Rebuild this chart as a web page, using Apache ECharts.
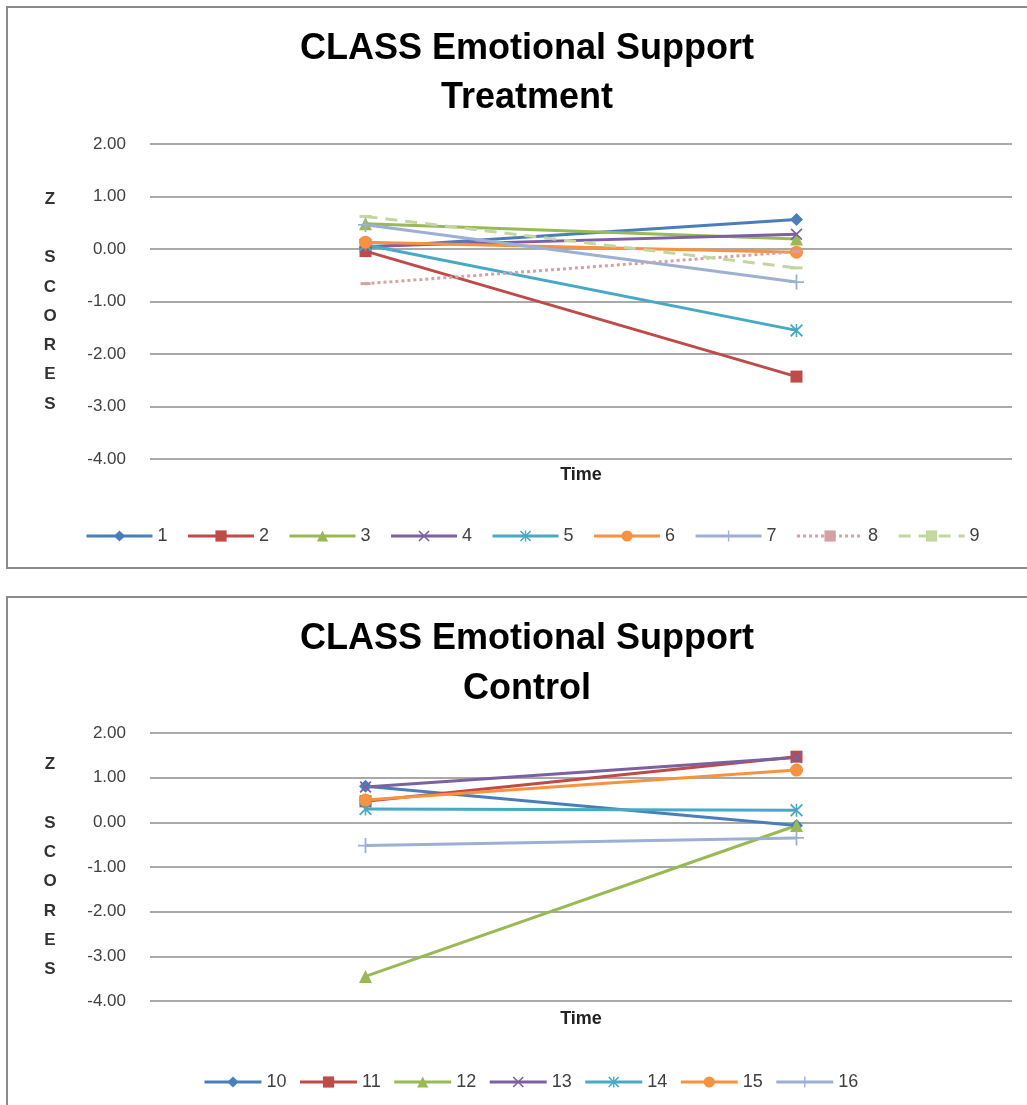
<!DOCTYPE html>
<html>
<head>
<meta charset="utf-8">
<title>CLASS Emotional Support</title>
<script src="https://cdn.jsdelivr.net/npm/echarts@6/dist/echarts.min.js"></script>
<style>
  html, body { margin: 0; padding: 0; background: #fff; }
  #chart { width: 1027px; height: 1105px; }
</style>
</head>
<body>
<div id="chart"></div>
<script>
// two time points, no visible category labels
const categories = ['Time 1', 'Time 2']
const yTicks = [-4, -3, -2, -1, 0, 1, 2]

// Treatment classrooms (z scores)
const treatNames = ['1', '2', '3', '4', '5', '6', '7', '8', '9']
const treat1 = [0.03, 0.56]
const treat2 = [-0.04, -2.43]
const treat3 = [0.48, 0.19]
const treat4 = [0.05, 0.28]
const treat5 = [0.08, -1.55]
const treat6 = [0.13, -0.06]
const treat7 = [0.46, -0.63]
const treat8 = [-0.66, -0.05]
const treat9 = [0.62, -0.36]

// Control classrooms (z scores)
const ctrlNames = ['10', '11', '12', '13', '14', '15', '16']
const ctrl10 = [0.81, -0.07]
const ctrl11 = [0.47, 1.47]
const ctrl12 = [-3.45, -0.07]
const ctrl13 = [0.79, 1.45]
const ctrl14 = [0.3, 0.27]
const ctrl15 = [0.5, 1.17]
const ctrl16 = [-0.52, -0.35]

const palette = ['#4A7EBB', '#BE4B48', '#98B954', '#7D60A0', '#46AAC5', '#F69240', '#9DB0D4', '#D4A2A2', '#C4D69F']

const xMark = 'path://M0,1 L1,0 L10,9 L9,10 Z M9,0 L10,1 L1,10 L0,9 Z'
const plusMark = 'path://M4.4,0 L5.6,0 L5.6,4.4 L10,4.4 L10,5.6 L5.6,5.6 L5.6,10 L4.4,10 L4.4,5.6 L0,5.6 L0,4.4 L4.4,4.4 Z'
const starMark = 'path://M0,1 L1,0 L10,9 L9,10 Z M9,0 L10,1 L1,10 L0,9 Z M4.4,0 L5.6,0 L5.6,10 L4.4,10 Z'
const dashMark = 'path://M0,0 L10,0 L10,3 L0,3 Z'

// marker per series slot, same order as Excel's defaults
const markers = [
  { symbol: 'diamond', size: 13 },
  { symbol: 'rect', size: 12 },
  { symbol: 'triangle', size: 13 },
  { symbol: xMark, size: 12 },
  { symbol: starMark, size: 13 },
  { symbol: 'circle', size: 13 },
  { symbol: plusMark, size: 15 },
  { symbol: dashMark, size: [10, 3] },
  { symbol: dashMark, size: [12, 3] }
]
const lineTypes = ['solid', 'solid', 'solid', 'solid', 'solid', 'solid', 'solid', [3, 3], [12, 8]]

const labelColor = '#404040'
const gridColor = '#8c8c8c'

function makeSeries(name, data, slot, axisIndex) {
  const m = markers[slot]
  return {
    name: name,
    type: 'line',
    xAxisIndex: axisIndex,
    yAxisIndex: axisIndex,
    data: data,
    symbol: m.symbol,
    symbolSize: m.size,
    showAllSymbol: true,
    animation: false,
    itemStyle: { color: palette[slot] },
    lineStyle: { color: palette[slot], width: 3, type: lineTypes[slot] }
  }
}

function makeXAxis(gridIndex, gap) {
  return {
    type: 'category',
    gridIndex: gridIndex,
    data: categories,
    boundaryGap: true,
    axisLine: { show: false },
    axisTick: { show: false },
    axisLabel: { show: false },
    name: 'Time',
    nameLocation: 'middle',
    nameGap: gap,
    nameTextStyle: { fontFamily: 'Liberation Sans', fontWeight: 'bold', fontSize: 18, color: '#222' }
  }
}

function makeYAxis(gridIndex) {
  return {
    type: 'value',
    gridIndex: gridIndex,
    min: yTicks[0],
    max: yTicks[yTicks.length - 1],
    interval: 1,
    axisLine: { show: false },
    axisTick: { show: false },
    axisLabel: {
      margin: 24,
      fontFamily: 'Liberation Sans',
      fontSize: 17,
      color: labelColor,
      formatter: v => v.toFixed(2)
    },
    splitLine: { lineStyle: { color: gridColor, width: 1.5 } },
    name: 'Z\n\nS\nC\nO\nR\nE\nS',
    nameLocation: 'middle',
    nameRotate: 0,
    nameGap: 100,
    nameTextStyle: {
      fontFamily: 'Liberation Sans',
      fontWeight: 'bold',
      fontSize: 17,
      lineHeight: 29.3,
      color: '#333',
      align: 'center',
      verticalAlign: 'middle'
    }
  }
}

const legendText = { fontFamily: 'Liberation Sans', fontSize: 18, color: labelColor }

const treatData = [treat1, treat2, treat3, treat4, treat5, treat6, treat7, treat8, treat9]
const ctrlData = [ctrl10, ctrl11, ctrl12, ctrl13, ctrl14, ctrl15, ctrl16]

const series = []
treatData.forEach((d, i) => series.push(makeSeries(treatNames[i], d, i, 0)))
ctrlData.forEach((d, i) => series.push(makeSeries(ctrlNames[i], d, i, 1)))

const chart = echarts.init(document.getElementById('chart'))
chart.setOption({
  backgroundColor: '#fff',
  animation: false,
  graphic: [
    { type: 'rect', shape: { x: 7, y: 7, width: 1040, height: 561 }, style: { fill: 'none', stroke: '#8a8a8a', lineWidth: 2 }, silent: true },
    { type: 'rect', shape: { x: 7, y: 597, width: 1040, height: 530 }, style: { fill: 'none', stroke: '#8a8a8a', lineWidth: 2 }, silent: true }
  ],
  title: [
    {
      text: 'CLASS Emotional Support\nTreatment',
      left: 522,
      top: 20,
      textAlign: 'center',
      textStyle: { fontFamily: 'Liberation Sans', fontWeight: 'bold', fontSize: 36, lineHeight: 49, color: '#000' }
    },
    {
      text: 'CLASS Emotional Support\nControl',
      left: 522,
      top: 609,
      textAlign: 'center',
      textStyle: { fontFamily: 'Liberation Sans', fontWeight: 'bold', fontSize: 36, lineHeight: 50, color: '#000' }
    }
  ],
  legend: [
    {
      data: treatNames,
      left: 80,
      top: 522,
      itemWidth: 66,
      itemHeight: 14,
      itemGap: 19,
      lineStyle: { width: 3 },
      textStyle: legendText
    },
    {
      data: ctrlNames,
      left: 198,
      top: 1068,
      itemWidth: 57,
      itemHeight: 14,
      itemGap: 12,
      lineStyle: { width: 3 },
      textStyle: legendText
    }
  ],
  grid: [
    { left: 150, top: 144, width: 862, height: 315 },
    { left: 150, top: 733, width: 862, height: 268 }
  ],
  xAxis: [makeXAxis(0, 7), makeXAxis(1, 9)],
  yAxis: [makeYAxis(0), makeYAxis(1)],
  series: series
})
</script>
</body>
</html>
